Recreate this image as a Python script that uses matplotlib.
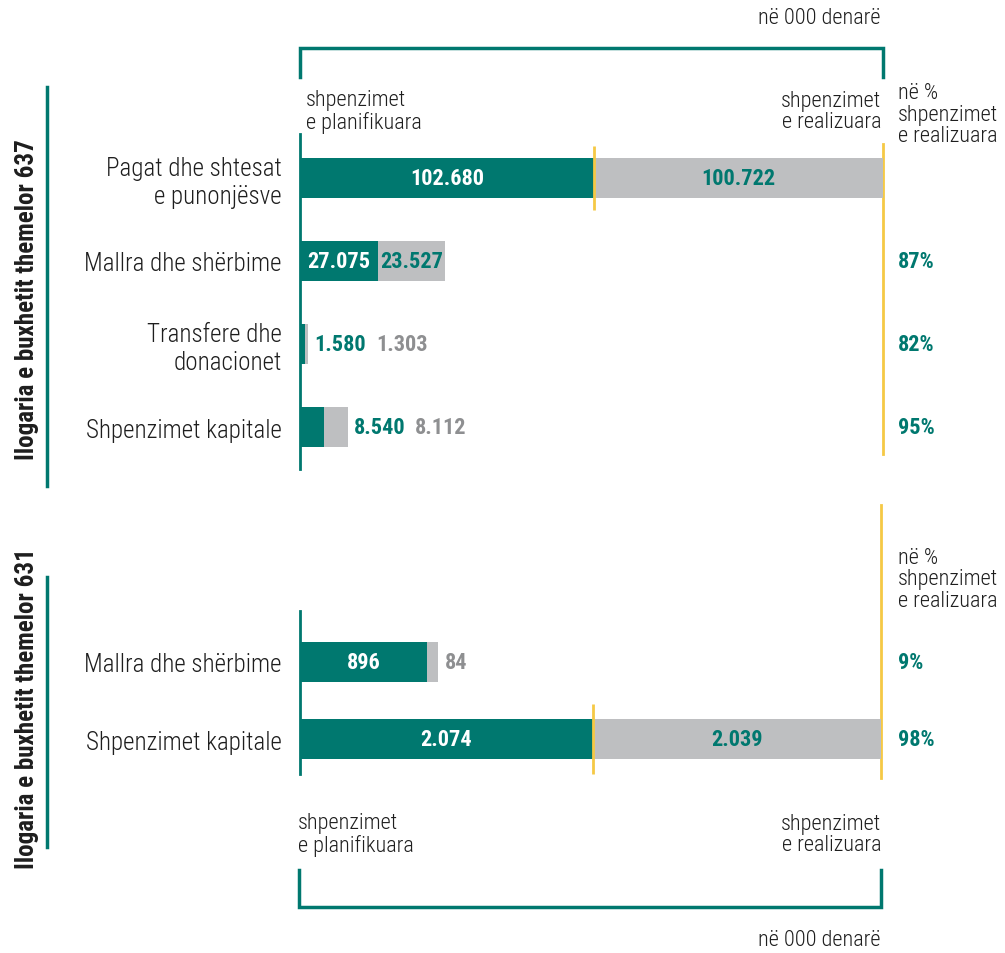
import matplotlib
matplotlib.use("Agg")
import matplotlib.pyplot as plt
from matplotlib.transforms import blended_transform_factory

plt.rcParams['font.family'] = ['Roboto Condensed', 'Roboto', 'DejaVu Sans']
plt.rcParams['font.stretch'] = 'condensed'
plt.rcParams['font.weight'] = 'light'

# Budget account 637 (in thousand denars)
cats_637 = ["Pagat dhe shtesat\ne punonjësve", "Mallra dhe shërbime",
            "Transfere dhe\ndonacionet", "Shpenzimet kapitale"]
planned_637 = [102680, 27075, 1580, 8540]
realized_637 = [100722, 23527, 1303, 8112]
pct_637 = [None, 87, 82, 95]

# Budget account 631 (in thousand denars)
cats_631 = ["Mallra dhe shërbime", "Shpenzimet kapitale"]
planned_631 = [896, 2074]
realized_631 = [84, 2039]
pct_631 = [9, 98]

title_637 = "Ilogaria e buxhetit themelor 637"
title_631 = "Ilogaria e buxhetit themelor 631"
unit_label = "në 000 denarë"
planned_label = "shpenzimet\ne planifikuara"
realized_label = "shpenzimet\ne realizuara"
pct_header = "në %\nshpenzimet\ne realizuara"

TEAL = "#00786F"
GRAY = "#BEBFC1"
YELLOW = "#F5C945"
INK = "#1E1E1E"
GRAY_TXT = "#8E8F91"

W, H = 1005, 954
fig = plt.figure(figsize=(W / 100, H / 100), dpi=100)

# full-figure layer in pixel units for frames and headers
deco = fig.add_axes([0, 0, 1, 1])
deco.set_xlim(0, W)
deco.set_ylim(H, 0)
deco.axis('off')


def fmt(v):
    return f"{v:,}".replace(",", ".")


def panel_axes(x0, x1, y0, y1):
    return fig.add_axes([x0 / W, 1 - y1 / H, (x1 - x0) / W, (y1 - y0) / H])


renderer = fig.canvas.get_renderer()


def draw_panel(ax, cats, planned, realized, pct, ylim, bar_h, tick_half):
    pos = list(range(len(cats)))
    totals = [p + r for p, r in zip(planned, realized)]
    xmax = max(totals)
    ax.barh(pos, planned, height=bar_h, color=TEAL, linewidth=0)
    ax.barh(pos, realized, left=planned, height=bar_h, color=GRAY, linewidth=0)
    ax.set_xlim(0, xmax)
    ax.set_ylim(*ylim)
    ax.set_yticks(pos, cats)
    ax.tick_params(axis='y', length=0, pad=13, labelsize=18, labelcolor=INK)
    ax.set_xticks([])
    for s in ('top', 'right', 'bottom'):
        ax.spines[s].set_visible(False)
    ax.spines['left'].set_color(TEAL)
    ax.spines['left'].set_linewidth(2)
    ax.patch.set_alpha(0)

    to_px = ax.transData.transform
    from_px = ax.transData.inverted().transform
    for i, (p, r, t) in enumerate(zip(planned, realized, totals)):
        # mark where planned ends on the widest row
        if t == xmax:
            ax.plot([p, p], [i - tick_half, i + tick_half], color=YELLOW,
                    lw=2, clip_on=False, solid_capstyle='butt')
        cursor = to_px((t, i))[0] + 6
        for val, left, color_in, color_out in ((p, 0, 'white', TEAL),
                                                 (r, p, TEAL, GRAY_TXT)):
            x0 = to_px((left, i))[0]
            x1 = to_px((left + val, i))[0]
            txt = ax.text((left + val / 2), i, fmt(val), ha='center',
                          va='center', color=color_in, fontsize=16,
                          fontweight='bold')
            w = txt.get_window_extent(renderer).width
            if w + 2 > (x1 - x0):
                txt.set_x(from_px((cursor, 0))[0])
                txt.set_ha('left')
                txt.set_color(color_out)
                cursor += w + 10

    tr = blended_transform_factory(deco.transData, ax.transData)
    for i, v in enumerate(pct):
        if v is not None:
            deco.text(898, i, f"{v}%", transform=tr, ha='left', va='center',
                      color=TEAL, fontsize=16, fontweight='bold')


# ---- account 637 ----
ax1 = panel_axes(300, 883, 135, 470)
draw_panel(ax1, cats_637, planned_637, realized_637, pct_637,
           ylim=(3.506, -0.53), bar_h=0.48, tick_half=0.38)

# ---- account 631 ----
ax2 = panel_axes(300, 881, 612, 775)
draw_panel(ax2, cats_631, planned_631, realized_631, pct_631,
           ylim=(1.45, -0.66), bar_h=0.52, tick_half=0.45)

# yellow reference lines at the right edge
deco.plot([883, 883], [145, 455], color=YELLOW, lw=2)
deco.plot([881, 881], [506, 779], color=YELLOW, lw=2)

# brackets
deco.plot([300, 300, 883, 883], [78, 49, 49, 78], color=TEAL, lw=2.5,
          solid_joinstyle='miter')
deco.plot([299, 299, 881, 881], [871, 908, 908, 871], color=TEAL, lw=2.5,
          solid_joinstyle='miter')

# left group lines and titles
deco.plot([47, 47], [88, 487], color=TEAL, lw=2.5)
deco.plot([47, 47], [578, 848], color=TEAL, lw=2.5)
deco.text(27, 300, title_637, rotation=90, ha='center', va='center',
          fontsize=18, fontweight='bold', color=INK)
deco.text(27, 709, title_631, rotation=90, ha='center', va='center',
          fontsize=18, fontweight='bold', color=INK)

# headers
hdr = dict(fontsize=16, color=INK, linespacing=1.05)
deco.text(880, 19, unit_label, ha='right', va='center', **hdr)
deco.text(306, 112, planned_label, ha='left', va='center', **hdr)
deco.text(881, 112, realized_label, ha='right', va='center', **hdr)
deco.text(898, 115, pct_header, ha='left', va='center', **hdr)

deco.text(898, 580, pct_header, ha='left', va='center', **hdr)
deco.text(298, 835, planned_label, ha='left', va='center', **hdr)
deco.text(881, 835, realized_label, ha='right', va='center', **hdr)
deco.text(880, 941, unit_label, ha='right', va='center', **hdr)

fig.savefig("out.png", dpi=100)
